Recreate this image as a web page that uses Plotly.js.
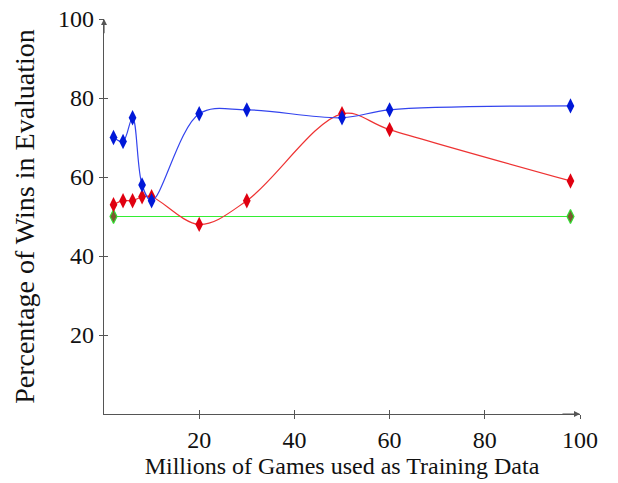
<!DOCTYPE html>
<html><head><meta charset="utf-8">
<script src="https://cdn.plot.ly/plotly-3.0.1.min.js"></script>
<style>body{margin:0;padding:0;background:#fff}#plot{width:618px;height:483px}</style>
</head><body><div id="plot"></div>
<script>
const blueX = [2, 4, 6, 8, 10, 20, 30, 50, 60, 98];
const blueY = [70, 69, 75, 58, 54, 76, 77, 75, 77, 78];
const redX = [2, 4, 6, 8, 10, 20, 30, 50, 60, 98];
const redY = [53, 54, 54, 55, 55, 48, 54, 76, 72, 59];
const greenX = [2, 98];
const greenY = [50, 50];
const tickVals = [20, 40, 60, 80, 100];
const tickText = ['20', '40', '60', '80', '100'];

const font = {family: 'Liberation Serif, Times New Roman, serif', color: '#111', size: 24};
const yTitleFont = {family: 'Liberation Serif, Times New Roman, serif', color: '#111', size: 28};

const traces = [
  {x: greenX, y: greenY, mode: 'lines+markers', line: {color: '#33ee33', width: 1.2},
   marker: {symbol: 'diamond-tall', size: 10, color: '#7a5a30', line: {color: '#33dd33', width: 1.2}}},
  {x: redX, y: redY, mode: 'lines+markers', line: {color: '#ee3333', width: 1.2, shape: 'spline', smoothing: 1},
   marker: {symbol: 'diamond-tall', size: 11, color: '#e00010', line: {width: 0}}},
  {x: blueX, y: blueY, mode: 'lines+markers', line: {color: '#3344ee', width: 1.2, shape: 'spline', smoothing: 1},
   marker: {symbol: 'diamond-tall', size: 11, color: '#0018d8', line: {width: 0}}}
];

const axBase = {range: [0, 100], tickvals: tickVals, ticktext: tickText, showgrid: false, zeroline: false,
  showline: true, linecolor: '#555', linewidth: 1.2, ticks: 'outside', ticklen: 4, tickcolor: '#555', tickfont: font};

const layout = {
  width: 618, height: 483,
  margin: {l: 104, r: 38, t: 19, b: 69},
  paper_bgcolor: '#fff', plot_bgcolor: '#fff',
  showlegend: false,
  xaxis: Object.assign({}, axBase, {title: {text: 'Millions of Games used as Training Data', font: font, standoff: 0}}),
  yaxis: Object.assign({}, axBase, {title: {text: 'Percentage of Wins in Evaluation', font: yTitleFont, standoff: 15}}),
  xaxis2: {range: [0, 100], tickvals: tickVals, overlaying: 'x', showticklabels: false, ticks: 'inside', ticklen: 4, tickcolor: '#555', showgrid: false, zeroline: false, showline: false},
  yaxis2: {range: [0, 100], tickvals: tickVals, overlaying: 'y', showticklabels: false, ticks: 'inside', ticklen: 4, tickcolor: '#555', showgrid: false, zeroline: false, showline: false},
  annotations: [
    {x: 100, y: 0, ax: 96, ay: 0, xref: 'x', yref: 'y', axref: 'x', ayref: 'y', text: '', showarrow: true, arrowhead: 2, arrowsize: 1, arrowwidth: 1.2, arrowcolor: '#555'},
    {x: 0, y: 100, ax: 0, ay: 96, xref: 'x', yref: 'y', axref: 'x', ayref: 'y', text: '', showarrow: true, arrowhead: 2, arrowsize: 1, arrowwidth: 1.2, arrowcolor: '#555'}
  ]
};
// dummy trace to activate the overlay axes (inner half of the crossing ticks)
traces.push({x: [0], y: [0], xaxis: 'x2', yaxis: 'y2', mode: 'markers', marker: {opacity: 0}, hoverinfo: 'skip'});

Plotly.newPlot('plot', traces, layout, {displayModeBar: false, staticPlot: true});
</script></body></html>
